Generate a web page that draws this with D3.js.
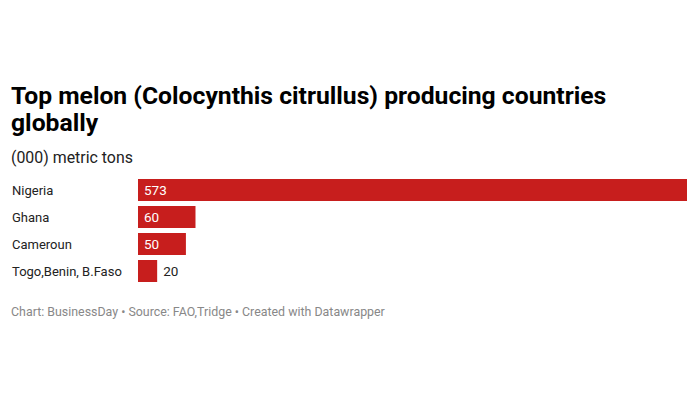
<!DOCTYPE html>
<html><head><meta charset="utf-8">
<script src="https://cdn.jsdelivr.net/npm/d3@7"></script>
<style>
body{margin:0;background:#fff;}
svg{display:block;font-family:Roboto,"Noto Sans",sans-serif;}
</style></head>
<body><svg id="chart" width="700" height="400"></svg>
<script>
const categories = ["Nigeria","Ghana","Cameroun","Togo,Benin, B.Faso"];
const values = [573,60,50,20];
const title = ["Top melon (Colocynthis citrullus) producing countries","globally"];
const subtitle = "(000) metric tons";
const footer = "Chart: BusinessDay • Source: FAO,Tridge • Created with Datawrapper";

const svg = d3.select("#chart");
svg.append("rect").attr("width",700).attr("height",400).attr("fill","#fff");

svg.selectAll("text.title").data(title).join("text")
  .attr("class","title").attr("x",11).attr("y",(d,i)=>104+i*27)
  .attr("font-size",24.7).attr("font-weight",700).attr("fill","#000").text(d=>d);
svg.append("text").attr("x",11).attr("y",163).attr("font-size",15.9).attr("fill","#222").text(subtitle);

const x = d3.scaleLinear().domain([0,573]).range([138,687]);
const step = 27, bh = 22;
const yPos = (d,i)=>179+i*step;

const g = svg.append("g");
g.selectAll("rect.bar").data(values).join("rect").attr("class","bar")
  .attr("x",x(0)).attr("y",yPos).attr("width",d=>x(d)-x(0)).attr("height",bh)
  .attr("fill","#c71e1d");
g.selectAll("text.cat").data(categories).join("text").attr("class","cat")
  .attr("x",12).attr("y",(d,i)=>yPos(d,i)+bh/2+4.5).attr("font-size",13).attr("fill","#222").text(d=>d);
g.selectAll("text.val").data(values).join("text").attr("class","val")
  .attr("x",d=> (x(d)-x(0))>30 ? x(0)+6 : x(d)+6)
  .attr("y",(d,i)=>yPos(d,i)+bh/2+4.5).attr("font-size",13.5)
  .attr("fill",d=> (x(d)-x(0))>30 ? "#fff" : "#222").text(d=>d);

svg.append("text").attr("x",11).attr("y",316).attr("font-size",12.4).attr("fill","#888").text(footer);
</script></body></html>
